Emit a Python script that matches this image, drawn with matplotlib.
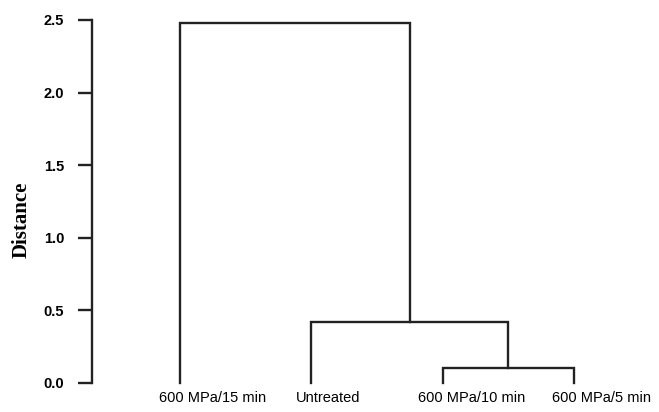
import matplotlib.pyplot as plt
from matplotlib.transforms import ScaledTranslation

# leaves in plotting order
leaves = ["600 MPa/15 min", "Untreated", "600 MPa/10 min", "600 MPa/5 min"]
# merges: (left node, right node, distance); new nodes numbered from len(leaves)
merges = [(2, 3, 0.10), (1, 4, 0.42), (0, 5, 2.48)]
yticks = [0.0, 0.5, 1.0, 1.5, 2.0, 2.5]
# small shifts of the leaf labels (inches), as in the original figure
label_shift = [-0.21, -0.15, -0.25, -0.22]

fig = plt.figure(figsize=(6.59, 4.12), dpi=100)
ax = fig.add_axes([0.1396, 0.0704, 0.83, 0.8811])

xpos = {i: i + 1 for i in range(len(leaves))}
hgt = {i: 0.0 for i in range(len(leaves))}
for k, (a, b, d) in enumerate(merges):
    node = len(leaves) + k
    ax.plot([xpos[a], xpos[a], xpos[b], xpos[b]], [hgt[a], d, d, hgt[b]],
            color='#222222', lw=1.7, solid_capstyle='projecting',
            solid_joinstyle='miter', clip_on=False)
    xpos[node] = (xpos[a] + xpos[b]) / 2
    hgt[node] = d

ax.set_xlim(0.332, 4.493)
ax.set_ylim(0, 2.5)

for s in ['top', 'right', 'bottom']:
    ax.spines[s].set_visible(False)
ax.spines['left'].set_linewidth(1.7)
ax.spines['left'].set_color('#222222')

ax.set_yticks(yticks)
ax.set_yticklabels([f"{v:.1f}" for v in yticks], fontsize=10.5,
                   fontweight='bold', family='Liberation Sans')
ax.tick_params(axis='y', length=10, width=1.7, pad=10, color='#222222')

ax.set_xticks(list(range(1, len(leaves) + 1)))
ax.set_xticklabels(leaves, fontsize=10.5, family='Liberation Sans', ha='left')
ax.tick_params(axis='x', length=0, pad=6)
for lab, dx in zip(ax.get_xticklabels(), label_shift):
    lab.set_transform(lab.get_transform() + ScaledTranslation(dx, 0, fig.dpi_scale_trans))

ax.set_ylabel('Distance', fontsize=15, fontweight='bold', family='Liberation Serif')
ax.yaxis.set_label_coords(-0.11, 0.45)

fig.savefig('out.png', dpi=100)
